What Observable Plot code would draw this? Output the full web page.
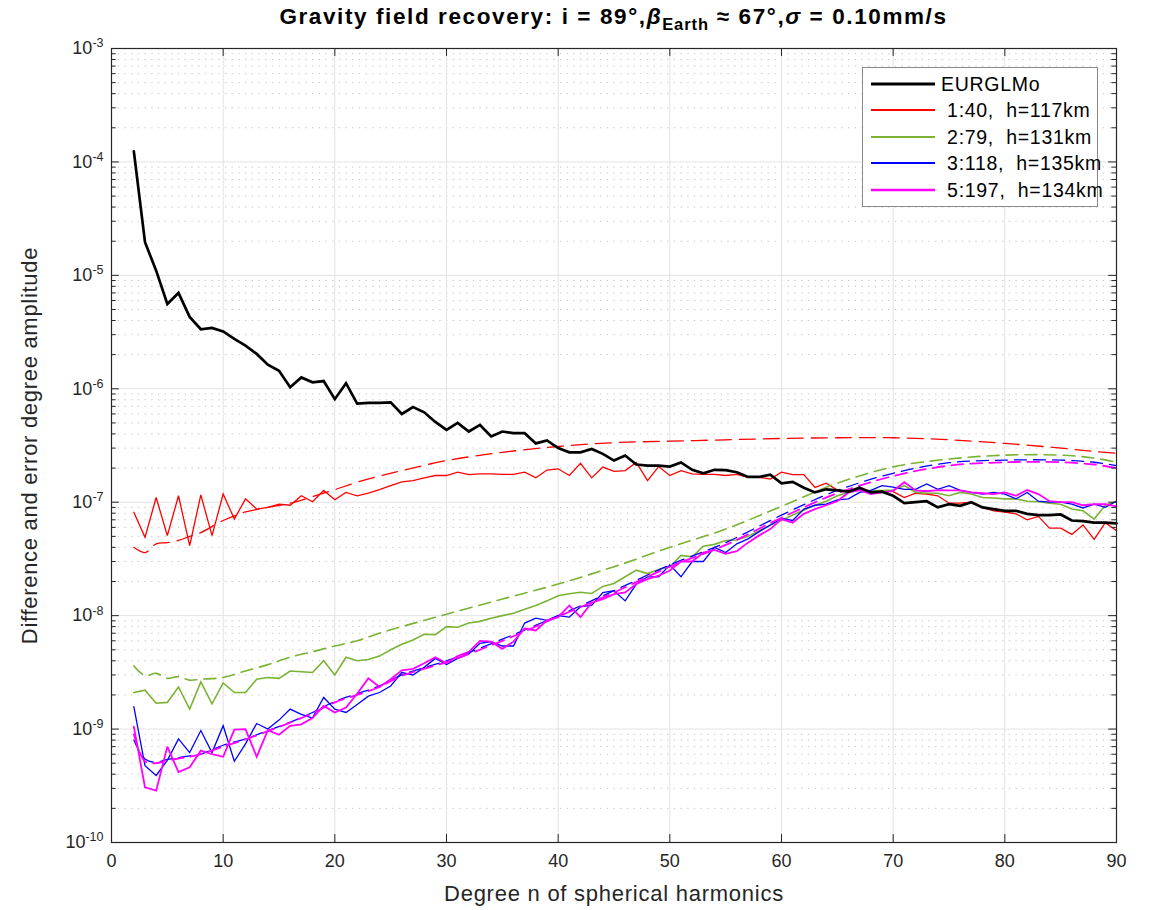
<!DOCTYPE html>
<html><head><meta charset="utf-8">
<script src="https://cdn.jsdelivr.net/npm/d3@7"></script>
<script src="https://cdn.jsdelivr.net/npm/@observablehq/plot@0.6"></script>
<style>
body{margin:0;background:#fff;font-family:"Liberation Sans",Arial,sans-serif;}
#wrap{position:relative;width:1153px;height:910px;}
#title{height:36px;box-sizing:border-box;padding:4px 37px 0 111px;text-align:center;font-weight:bold;font-size:22.5px;letter-spacing:1.6px;line-height:26px;color:#000;white-space:nowrap;}
#title .sub{font-size:16.5px;position:relative;top:6px;letter-spacing:0.9px;}
#legend{position:absolute;left:862px;top:67px;width:236px;height:140px;box-sizing:border-box;border:1.5px solid #8a8a8a;background:#fff;}
#legend .row{position:absolute;left:0;height:26px;width:230px;}
#legend .lab{position:absolute;left:78px;top:0;font-size:19.5px;letter-spacing:0.7px;line-height:26px;white-space:pre;color:#000;}
#legend svg{position:absolute;left:8px;top:0;}
</style></head><body>
<div id="wrap">
<div id="title">Gravity field recovery: i = 89°,<i>β</i><span class="sub">Earth</span> ≈ 67°,<i>σ</i> = 0.10mm/s</div>
<div id="chart"></div>
<div id="legend"></div>
</div>
<script>
// spherical harmonic degree n
const degree = d3.range(2, 91);

const eurglmo = [1.24e-4,1.96e-5,1.1e-5,5.6e-6,7.0e-6,4.3e-6,3.35e-6,3.44e-6,3.2e-6,2.75e-6,
2.4e-6,2.03e-6,1.63e-6,1.44e-6,1.03e-6,1.26e-6,1.14e-6,1.17e-6,8.1e-7,1.12e-6,
7.4e-7,7.5e-7,7.5e-7,7.6e-7,6.0e-7,6.9e-7,6.2e-7,5.1e-7,4.35e-7,5.0e-7,
4.2e-7,4.8e-7,3.8e-7,4.2e-7,4.06e-7,4.06e-7,3.3e-7,3.5e-7,3.0e-7,2.75e-7,
2.75e-7,2.95e-7,2.67e-7,2.33e-7,2.58e-7,2.15e-7,2.1e-7,2.1e-7,2.06e-7,2.24e-7,
1.93e-7,1.8e-7,1.93e-7,1.92e-7,1.84e-7,1.67e-7,1.67e-7,1.75e-7,1.47e-7,1.51e-7,
1.34e-7,1.22e-7,1.3e-7,1.27e-7,1.24e-7,1.34e-7,1.22e-7,1.24e-7,1.14e-7,9.8e-8,
1.0e-7,1.02e-7,9.0e-8,9.6e-8,9.3e-8,1.0e-7,9.0e-8,8.7e-8,8.4e-8,8.4e-8,
7.9e-8,7.7e-8,7.7e-8,7.8e-8,6.9e-8,6.8e-8,6.6e-8,6.6e-8,6.5e-8];

const red140 = [8.15e-8,4.9e-8,1.1e-7,5.07e-8,1.14e-7,4.14e-8,1.16e-7,5.07e-8,1.18e-7,7.1e-8,
1.07e-7,8.7e-8,9.0e-8,9.6e-8,9.4e-8,1.14e-7,1.01e-7,1.27e-7,1.05e-7,1.22e-7,
1.14e-7,1.2e-7,1.29e-7,1.4e-7,1.51e-7,1.55e-7,1.64e-7,1.72e-7,1.72e-7,1.84e-7,
1.75e-7,1.78e-7,1.78e-7,1.76e-7,1.76e-7,1.84e-7,1.64e-7,1.92e-7,1.97e-7,1.72e-7,
2.2e-7,1.64e-7,2.04e-7,1.87e-7,1.9e-7,2.24e-7,1.55e-7,2.06e-7,1.72e-7,1.9e-7,
1.78e-7,1.76e-7,1.76e-7,1.72e-7,1.76e-7,1.66e-7,1.66e-7,1.6e-7,1.84e-7,1.75e-7,
1.75e-7,1.35e-7,1.47e-7,1.28e-7,1.25e-7,1.33e-7,1.22e-7,1.25e-7,1.24e-7,1.1e-7,
1.2e-7,1.18e-7,1.14e-7,9.8e-8,9.8e-8,1.0e-7,9.0e-8,8.4e-8,8.2e-8,7.9e-8,
7.0e-8,7.5e-8,5.9e-8,5.9e-8,5.2e-8,6.3e-8,4.7e-8,6.6e-8,5.6e-8];

const green279 = [2.1e-9,2.2e-9,1.69e-9,1.72e-9,2.35e-9,1.5e-9,2.6e-9,1.67e-9,2.55e-9,2.1e-9,
2.1e-9,2.75e-9,2.85e-9,2.8e-9,3.25e-9,3.2e-9,3.15e-9,4.0e-9,3.0e-9,4.3e-9,
4.0e-9,4.1e-9,4.4e-9,5.0e-9,5.6e-9,6.1e-9,6.85e-9,6.8e-9,8.0e-9,7.9e-9,
8.6e-9,8.9e-9,9.5e-9,1.0e-8,1.05e-8,1.14e-8,1.23e-8,1.35e-8,1.5e-8,1.56e-8,
1.61e-8,1.57e-8,1.81e-8,1.92e-8,2.2e-8,2.52e-8,2.35e-8,2.55e-8,2.7e-8,3.4e-8,
3.3e-8,4.1e-8,4.25e-8,4.6e-8,4.65e-8,5.0e-8,5.6e-8,6.3e-8,6.9e-8,7.7e-8,
8.5e-8,9.4e-8,1.02e-7,1.14e-7,1.22e-7,1.28e-7,1.27e-7,1.27e-7,1.28e-7,1.4e-7,
1.22e-7,1.2e-7,1.2e-7,1.14e-7,1.22e-7,1.18e-7,1.1e-7,1.09e-7,1.07e-7,1.07e-7,
1.02e-7,1.01e-7,9.8e-8,9.6e-8,8.7e-8,8.4e-8,7.1e-8,9.4e-8,1.02e-7];

const blue3118 = [1.58e-9,4.75e-10,3.9e-10,5.3e-10,8.2e-10,6.2e-10,9.7e-10,6.2e-10,1.07e-9,5.2e-10,
7.4e-10,1.12e-9,1.0e-9,1.2e-9,1.5e-9,1.35e-9,1.25e-9,1.9e-9,1.5e-9,1.4e-9,
1.65e-9,1.95e-9,2.1e-9,2.4e-9,3.15e-9,3.0e-9,3.5e-9,4.2e-9,3.7e-9,4.2e-9,
4.6e-9,5.7e-9,5.9e-9,5.4e-9,5.4e-9,8.6e-9,9.5e-9,9.1e-9,1.0e-8,9.7e-9,
1.2e-8,1.23e-8,1.6e-8,1.66e-8,1.35e-8,1.9e-8,2.2e-8,2.2e-8,2.8e-8,2.2e-8,
3.0e-8,3.0e-8,4.0e-8,3.6e-8,4.3e-8,4.75e-8,5.5e-8,6.3e-8,7.2e-8,6.9e-8,
8.7e-8,9.4e-8,9.6e-8,1.05e-7,1.07e-7,1.22e-7,1.27e-7,1.4e-7,1.36e-7,1.3e-7,
1.3e-7,1.45e-7,1.3e-7,1.4e-7,1.27e-7,1.22e-7,1.18e-7,1.22e-7,1.18e-7,1.07e-7,
1.22e-7,1.02e-7,1.0e-7,1.0e-7,9.6e-8,8.9e-8,9.6e-8,9.0e-8,1.02e-7];

const magenta5197 = [1.05e-9,3.06e-10,2.86e-10,7.0e-10,4.17e-10,4.6e-10,6.45e-10,6.0e-10,5.7e-10,9.9e-10,
1.0e-9,5.7e-10,9.8e-10,8.9e-10,1.07e-9,1.1e-9,1.25e-9,1.6e-9,1.4e-9,1.55e-9,
2.05e-9,2.8e-9,2.35e-9,2.75e-9,3.3e-9,3.4e-9,3.8e-9,4.3e-9,3.8e-9,4.4e-9,
4.8e-9,6.0e-9,5.9e-9,5.1e-9,5.9e-9,7.7e-9,7.4e-9,9.1e-9,9.7e-9,1.23e-8,
9.7e-9,1.3e-8,1.4e-8,1.55e-8,1.6e-8,1.9e-8,2.1e-8,2.25e-8,2.5e-8,3.0e-8,
3.0e-8,3.6e-8,3.8e-8,3.5e-8,3.7e-8,4.4e-8,5.1e-8,5.8e-8,7.1e-8,6.6e-8,
7.9e-8,8.7e-8,9.4e-8,1.02e-7,1.22e-7,1.28e-7,1.18e-7,1.22e-7,1.26e-7,1.5e-7,
1.27e-7,1.25e-7,1.28e-7,1.27e-7,1.27e-7,1.22e-7,1.2e-7,1.18e-7,1.22e-7,1.14e-7,
1.28e-7,1.18e-7,1.02e-7,1.0e-7,1.0e-7,9.4e-8,9.6e-8,9.6e-8,9.2e-8];

// predicted error degree amplitudes (dashed), read at these degrees
const dashDegree = [2,3,4,5,6,7,8,10,12,14,16,18,20,22,24,26,30,35,40,45,50,55,60,65,70,75,80,85,88,90];
const red140Pred = [4.0e-8,3.6e-8,4.3e-8,4.4e-8,4.6e-8,5.0e-8,5.4e-8,6.9e-8,8.2e-8,9.0e-8,9.8e-8,1.12e-7,1.29e-7,1.5e-7,1.7e-7,1.9e-7,2.33e-7,2.75e-7,3.1e-7,3.35e-7,3.45e-7,3.55e-7,3.65e-7,3.7e-7,3.7e-7,3.55e-7,3.3e-7,3.0e-7,2.8e-7,2.7e-7];
const green279Pred = [3.6e-9,2.96e-9,3.1e-9,2.8e-9,2.9e-9,2.7e-9,2.75e-9,2.85e-9,3.25e-9,3.7e-9,4.3e-9,4.8e-9,5.4e-9,6.0e-9,7.0e-9,8.0e-9,1.03e-8,1.4e-8,1.9e-8,2.7e-8,4.0e-8,5.8e-8,9.2e-8,1.47e-7,2.05e-7,2.4e-7,2.6e-7,2.6e-7,2.45e-7,2.25e-7];
const blue3118Pred = [8.0e-10,5.45e-10,5.1e-10,5.4e-10,5.6e-10,5.8e-10,6.0e-10,7.2e-10,8.2e-10,9.7e-10,1.15e-9,1.4e-9,1.75e-9,2.05e-9,2.4e-9,3.0e-9,4.0e-9,6.2e-9,1.0e-8,1.66e-8,2.8e-8,4.4e-8,7.7e-8,1.27e-7,1.8e-7,2.23e-7,2.35e-7,2.35e-7,2.25e-7,2.1e-7];
const magenta5197Pred = [9.0e-10,5.2e-10,5.0e-10,5.3e-10,5.5e-10,5.7e-10,6.0e-10,7.0e-10,8.1e-10,9.6e-10,1.14e-9,1.38e-9,1.72e-9,2.0e-9,2.35e-9,2.95e-9,3.9e-9,6.0e-9,9.8e-9,1.6e-8,2.7e-8,4.2e-8,7.3e-8,1.2e-7,1.7e-7,2.1e-7,2.25e-7,2.25e-7,2.15e-7,2.0e-7];

const legendLabels = ["EURGLMo", " 1:40,  h=117km", " 2:79,  h=131km", " 3:118,  h=135km", " 5:197,  h=134km"];
const xTicks = [0,10,20,30,40,50,60,70,80,90];
const yDecades = [1e-10,1e-9,1e-8,1e-7,1e-6,1e-5,1e-4,1e-3];
const xLabel = "Degree n of spherical harmonics";
const yLabel = "Difference and error degree amplitude";

const colors = {black:"#000000", red:"#ff0000", green:"#7ab234", blue:"#0000ff", magenta:"#ff00ff"};
const widths = {black:2.7, red:1.3, green:1.6, blue:1.3, magenta:1.8};
const dashes = {red:"16,8", green:"12,7", blue:"12,7", magenta:"12,7"};

const rows = (ns, vs) => ns.map((n, i) => ({n, v: vs[i]}));
const yMinor = [];
for (let e = -10; e < -3; e++) for (let m = 2; m <= 9; m++) yMinor.push(m * Math.pow(10, e));

const majLen = 0.7, minLen = 0.42; // tick length in degree units
const tY = Math.pow(10, 0.07);

const solid = (vals, key) => Plot.line(rows(degree, vals), {x:"n", y:"v", stroke: colors[key], strokeWidth: widths[key], strokeLinejoin:"miter", strokeMiterlimit:3});
const dashed = (vals, key) => Plot.line(rows(dashDegree, vals), {x:"n", y:"v", stroke: colors[key], strokeWidth: widths[key], strokeDasharray: dashes[key], curve:"catmull-rom"});

const chart = Plot.plot({
  width: 1153, height: 874,
  marginTop: 12, marginLeft: 111, marginRight: 37, marginBottom: 68,
  style: {fontFamily: "Liberation Sans, Arial, sans-serif", fontSize: "18px", color: "#262626", background: "#fff"},
  x: {domain: [0, 90], ticks: xTicks, tickSize: 0, tickPadding: 12, label: xLabel, labelArrow: false, labelAnchor: "center", labelOffset: 58, tickFormat: d => String(d)},
  y: {type: "log", domain: [1e-10, 1e-3], ticks: yDecades, tickSize: 0, tickPadding: 8, label: yLabel, labelArrow: false, labelAnchor: "center", labelOffset: 90, tickFormat: d => "10^" + Math.round(Math.log10(d))},
  marks: [
    Plot.ruleY(yMinor, {stroke: "#c4c4c4", strokeDasharray: "1.3,5.4"}),
    Plot.ruleX(xTicks.slice(1, -1), {stroke: "#e2e2e2"}),
    Plot.ruleY(yDecades.slice(1, -1), {stroke: "#e2e2e2"}),
    dashed(red140Pred, "red"), solid(red140, "red"),
    dashed(green279Pred, "green"), solid(green279, "green"),
    dashed(blue3118Pred, "blue"), solid(blue3118, "blue"),
    dashed(magenta5197Pred, "magenta"), solid(magenta5197, "magenta"),
    solid(eurglmo, "black"),
    // inward ticks
    Plot.ruleY(yDecades, {x1: 0, x2: majLen, stroke: "#262626"}),
    Plot.ruleY(yMinor, {x1: 0, x2: minLen, stroke: "#262626"}),
    Plot.ruleY(yDecades, {x1: 90 - majLen, x2: 90, stroke: "#262626"}),
    Plot.ruleY(yMinor, {x1: 90 - minLen, x2: 90, stroke: "#262626"}),
    Plot.ruleX(xTicks, {y1: 1e-10, y2: 1e-10 * tY, stroke: "#262626"}),
    Plot.ruleX(xTicks, {y1: 1e-3 / tY, y2: 1e-3, stroke: "#262626"}),
    Plot.frame({stroke: "#262626", strokeWidth: 1.2})
  ]
});
document.getElementById("chart").appendChild(chart);

// superscript exponents on y tick labels
d3.select(chart).selectAll('g[aria-label="y-axis tick label"] text').each(function() {
  const t = this.textContent;
  const m = t.match(/^10\^(-?\d+)$/);
  if (!m) return;
  const sel = d3.select(this);
  sel.text("10");
  sel.append("tspan").attr("dy", "-0.55em").attr("font-size", "12.5px").text(m[1]);
});
d3.select(chart).selectAll('g[aria-label="x-axis label"] text').text(xLabel)
  .attr("font-size", "22px").attr("letter-spacing", "0.75px").attr("fill", "#262626");
d3.select(chart).selectAll('g[aria-label="y-axis label"] text').text(yLabel)
  .attr("font-size", "22px").attr("letter-spacing", "0.7px").attr("fill", "#262626");

// legend
const legendKeys = ["black", "red", "green", "blue", "magenta"];
const leg = d3.select("#legend");
legendKeys.forEach((k, i) => {
  const row = leg.append("div").attr("class", "row").style("top", (3 + i * 26.4) + "px");
  const s = row.append("svg").attr("width", 66).attr("height", 26);
  s.append("line").attr("x1", 0).attr("x2", 64).attr("y1", 13).attr("y2", 13)
    .attr("stroke", colors[k]).attr("stroke-width", widths[k] + (k === "black" ? 0.4 : 0.6));
  row.append("div").attr("class", "lab").text(legendLabels[i]);
});
</script>
</body></html>
